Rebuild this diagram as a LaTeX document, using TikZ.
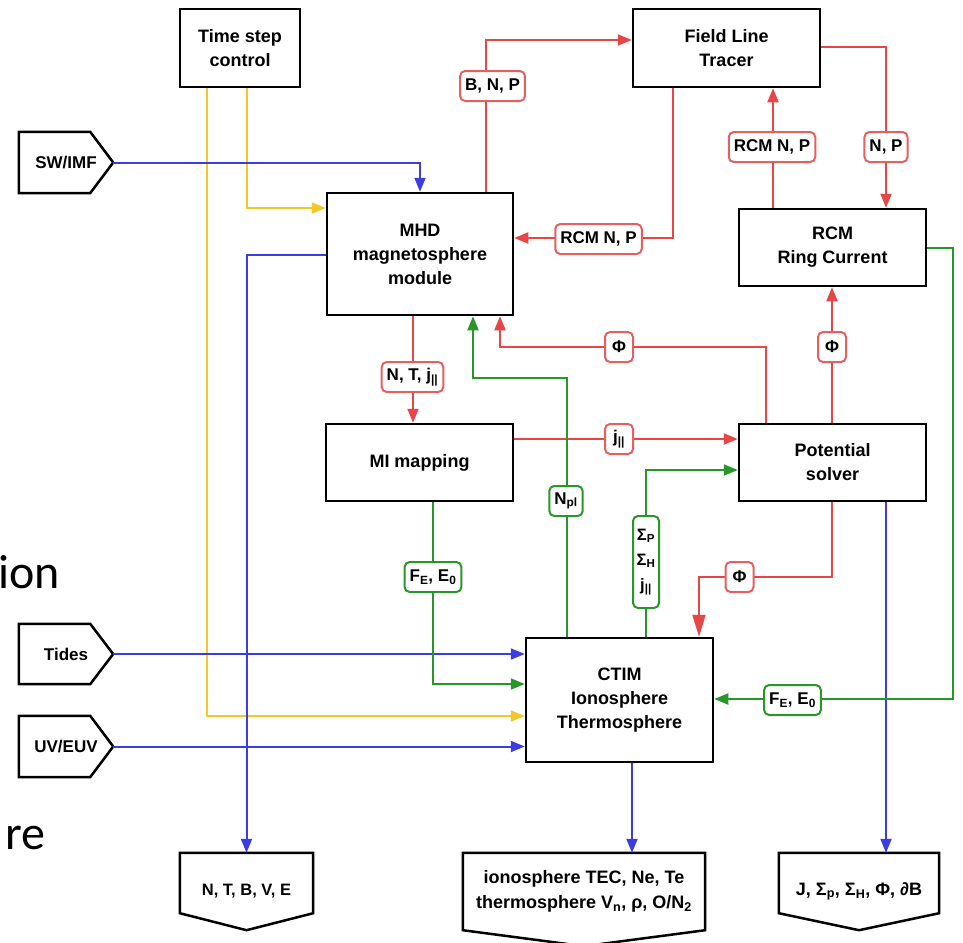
\documentclass[tikz,border=0pt]{standalone}
\usepackage{fontspec}
\setmainfont{Liberation Sans}
\newfontfamily\slidefont{Carlito}
\usetikzlibrary{arrows.meta}
\definecolor{cred}{RGB}{230,70,70}
\definecolor{credl}{RGB}{228,95,95}
\definecolor{cblue}{RGB}{60,60,225}
\definecolor{cyel}{RGB}{242,200,40}
\definecolor{cgreen}{RGB}{40,150,40}
\newcommand{\jpar}{j\textsubscript{||}}
\begin{document}
\begin{tikzpicture}[x=1pt,y=-1pt,
  box/.style={draw=black, line width=2.5pt, fill=white, inner sep=0pt, align=center,
    font=\fontsize{18}{24}\selectfont\bfseries},
  ghost/.style={inner sep=0pt, align=center, font=\fontsize{18}{24.5}\selectfont\bfseries},
  outline/.style={draw=black, line width=2.5pt, line join=miter},
  lab/.style={draw, line width=2pt, fill=white, rounded corners=5pt, inner xsep=5pt, inner ysep=0pt,
    minimum height=30pt, minimum width=28pt, text=black, align=center,
    font=\fontsize{17}{25}\selectfont\bfseries},
  rlab/.style={lab, draw=credl},
  glab/.style={lab, draw=cgreen},
  arr/.style={line width=2pt, -{Triangle[length=14pt,width=11pt]}},
  rline/.style={arr, draw=cred},
  bline/.style={arr, draw=cblue},
  yline/.style={arr, draw=cyel},
  gline/.style={arr, draw=cgreen},
  slide/.style={anchor=base west, inner sep=0pt, font=\slidefont\fontsize{48}{48}\selectfont}
]
\useasboundingbox[fill=white] (0,0) rectangle (963,942);

% slide text fragments
\node[slide] (ion) at (-2,588) {ion};
\node[slide] (re) at (5,849) {re};

% main boxes
\node[box, minimum width=120pt, minimum height=78pt] (tsc) at (240,48) {Time step\\control};
\node[box, minimum width=186pt, minimum height=122pt] (mhd) at (420,254) {MHD\\magnetosphere\\module};
\node[box, minimum width=187pt, minimum height=78pt] (flt) at (726.5,48) {Field Line\\Tracer};
\node[box, minimum width=187pt, minimum height=77pt] (rcm) at (832.5,247.5) {RCM\\Ring Current};
\node[box, minimum width=187pt, minimum height=77pt] (mi) at (419.5,462.5) {MI mapping};
\node[box, minimum width=187pt, minimum height=77pt] (ps) at (832.5,462.5) {Potential\\solver};
\node[box, minimum width=187pt, minimum height=124pt] (ctim) at (619.5,700) {CTIM\\Ionosphere\\Thermosphere};

% inputs
\node[ghost, minimum width=94pt, minimum height=61pt, font=\fontsize{17}{24}\selectfont\bfseries] (swimf) at (66,162.5) {SW/IMF};
\node[ghost, minimum width=94pt, minimum height=60pt, font=\fontsize{17}{24}\selectfont\bfseries] (tides) at (66,654) {Tides};
\node[ghost, minimum width=94pt, minimum height=61pt, font=\fontsize{17}{24}\selectfont\bfseries] (uv) at (66,746.5) {UV/EUV};
\foreach \n in {swimf,tides,uv}{
  \draw[outline] (\n.north west) -- ([xshift=-23pt]\n.north east) -- (\n.east)
    -- ([xshift=-23pt]\n.south east) -- (\n.south west) -- cycle;
}

% outputs
\node[ghost, minimum width=133pt, minimum height=77pt, font=\fontsize{16.5}{24}\selectfont\bfseries] (out1) at (246.5,891.5) {N, T, B, V, E};
\node[ghost, minimum width=242pt, minimum height=77pt] (out2) at (584,891.5) {ionosphere TEC, Ne, Te\\thermosphere V\textsubscript{n}, ρ, O/N\textsubscript{2}};
\node[ghost, minimum width=160pt, minimum height=77pt] (out3) at (859,891.5) {J, Σ\textsubscript{p}, Σ\textsubscript{H}, Φ, ∂B};
\foreach \n in {out1,out3}{
  \draw[outline] (\n.north west) -- (\n.north east) -- ([yshift=17pt]\n.south east)
    -- (\n.south) -- ([yshift=17pt]\n.south west) -- cycle;
}
\draw[outline] (out2.north west) -- (out2.north east) -- (out2.south east)
  -- ([yshift=-16pt]out2.south) -- (out2.south west) -- cycle;

% yellow connectors
\draw[yline] (tsc.south -| 247,0) |- (mhd.west |- 0,208);
\draw[yline] (tsc.south -| 207,0) |- (ctim.west |- 0,716);

% blue connectors
\draw[bline] (swimf.east) -| (mhd.north -| 420,0);
\draw[bline] (mhd.west |- 0,255) -| (out1.north);
\draw[bline] (tides.east) -- (ctim.west |- tides.east);
\draw[bline] (uv.east) -- (ctim.west |- uv.east);
\draw[bline] (ctim.south -| 632,0) -- (out2.north -| 632,0);
\draw[bline] (ps.south -| 886,0) -- (out3.north -| 886,0);

% red connectors
\draw[rline] (mhd.north -| 486,0) |- (flt.west |- 0,40);
\draw[rline] (flt.south -| 673,0) |- (mhd.east |- 0,238);
\draw[rline] (flt.east |- 0,47) -| (rcm.north -| 886,0);
\draw[rline] (rcm.north -| 773,0) -- (flt.south -| 773,0);
\draw[rline] (mhd.south -| 413,0) -- (mi.north -| 413,0);
\draw[rline] (mi.east |- 0,439) -- (ps.west |- 0,439);
\draw[rline] (ps.north -| 766,0) |- (500,347) -- (mhd.south -| 500,0);
\draw[rline] (ps.north -| 832,0) -- (rcm.south -| 832,0);
\draw[line width=2pt, draw=cred, -{Triangle[length=22pt,width=13pt]}]
  (ps.south -| 832,0) |- (699,577) -- (ctim.north -| 699,0);

% green connectors
\draw[gline] (ctim.north -| 567,0) |- (473,378) -- (mhd.south -| 473,0);
\draw[gline] (ctim.north -| 646,0) |- (ps.west |- 0,470);
\draw[gline] (mi.south -| 433,0) |- (ctim.west |- 0,684);
\draw[gline] (rcm.east) -| (953,699) -- (ctim.east |- 0,699);

% labels
\node[rlab] (lbnp) at (492.5,86) {B, N, P};
\node[rlab] (lrcm1) at (598.5,239) {RCM N, P};
\node[rlab] (lrcm2) at (772,147) {RCM N, P};
\node[rlab] (lnp) at (886,147) {N, P};
\node[rlab] (lntj) at (412.5,377) {N, T, \jpar};
\node[rlab] (lphi1) at (619,347) {Φ};
\node[rlab] (ljpar) at (619,439) {\jpar};
\node[rlab] (lphi2) at (832,347) {Φ};
\node[rlab] (lphi3) at (739.5,577) {Φ};
\node[glab] (lnpl) at (566,501) {N\textsubscript{pl}};
\node[glab, minimum width=26pt, minimum height=92pt, inner xsep=2pt, font=\fontsize{16.5}{25}\selectfont\bfseries] (lsig) at (646,562) {Σ\textsubscript{P}\\Σ\textsubscript{H}\\\jpar};
\node[glab] (lfe1) at (433,577) {F\textsubscript{E}, E\textsubscript{0}};
\node[glab] (lfe2) at (792.5,700) {F\textsubscript{E}, E\textsubscript{0}};
\end{tikzpicture}
\end{document}
